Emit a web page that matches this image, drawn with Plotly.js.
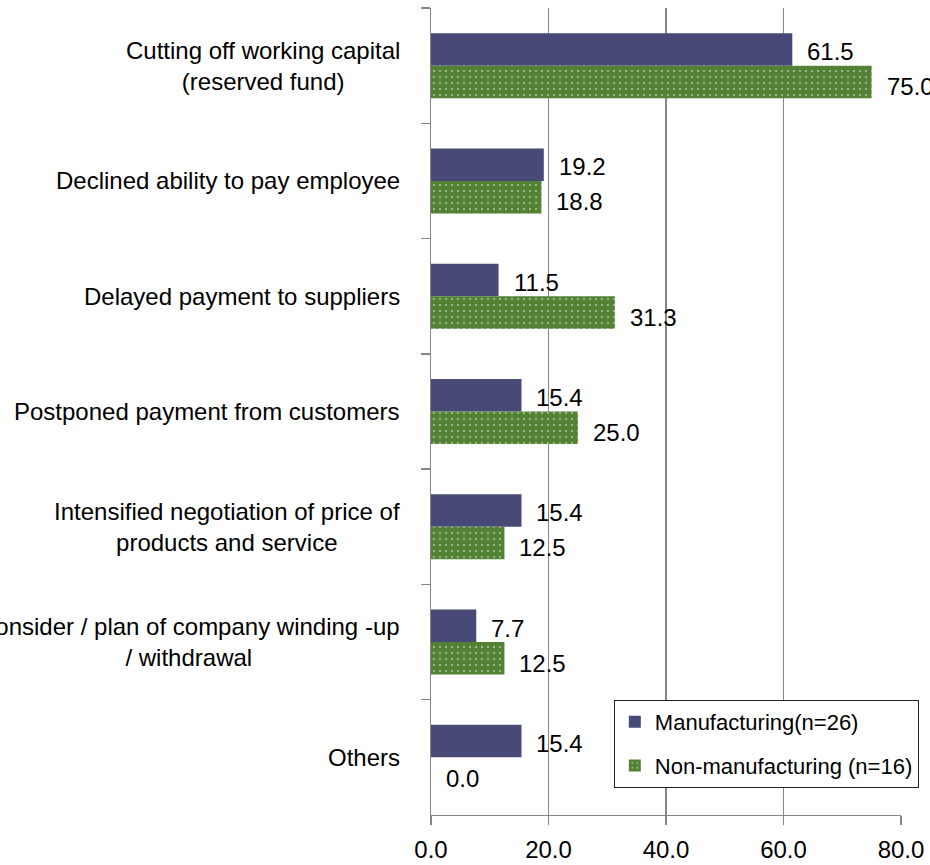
<!DOCTYPE html>
<html>
<head>
<meta charset="utf-8">
<script src="https://cdn.plot.ly/plotly-3.0.1.min.js"></script>
<style>
html,body{margin:0;padding:0;background:#fff;overflow:hidden;}
#chart{width:930px;height:865px;}
</style>
</head>
<body>
<div id="chart"></div>
<script>
const categories = [
  "Cutting off working capital<br>(reserved fund)",
  "Declined ability to pay employee",
  "Delayed payment to suppliers",
  "Postponed payment from customers",
  "Intensified negotiation of price of<br>products and service",
  "Consider / plan of company winding -up<br>/ withdrawal",
  "Others"
];
const manufacturing = [61.5, 19.2, 11.5, 15.4, 15.4, 7.7, 15.4];
const nonManufacturing = [75.0, 18.8, 31.3, 25.0, 12.5, 12.5, 0.0];
const seriesNames = ["Manufacturing(n=26)", "Non-manufacturing (n=16)"];
const xTicks = [0, 20, 40, 60, 80];

const FONT = '"Liberation Sans", Arial, sans-serif';
const BLUE = '#474A77';
const GREEN = '#548235';
const AXIS = '#868686';

const traces = [
  {
    type: 'bar', orientation: 'h', name: seriesNames[0],
    y: categories, x: manufacturing,
    marker: {color: BLUE, line: {width: 0}},
    legendgroup: 'a', hoverinfo: 'x'
  },
  {
    type: 'bar', orientation: 'h', name: seriesNames[1],
    y: categories, x: nonManufacturing,
    marker: {color: GREEN, line: {width: 0},
      pattern: {shape: '.', fgcolor: '#ffffff', bgcolor: GREEN, size: 6, solidity: 0.1, fillmode: 'overlay'}},
    legendgroup: 'b', hoverinfo: 'x'
  }
];

const annotations = [];
categories.forEach((c, i) => {
  annotations.push({
    xref: 'paper', yref: 'y', x: 0, y: c, xanchor: 'right', xshift: -29,
    text: c, showarrow: false, align: 'center',
    font: {family: FONT, size: 24, color: '#000'}
  });
  annotations.push({
    xref: 'x', yref: 'y', x: manufacturing[i], y: c, xanchor: 'left', yanchor: 'middle',
    xshift: 13, yshift: 14, text: manufacturing[i].toFixed(1), showarrow: false,
    font: {family: FONT, size: 24, color: '#000'}
  });
  annotations.push({
    xref: 'x', yref: 'y', x: nonManufacturing[i], y: c, xanchor: 'left', yanchor: 'middle',
    xshift: 13, yshift: -21, text: nonManufacturing[i].toFixed(1), showarrow: false,
    font: {family: FONT, size: 24, color: '#000'}
  });
});

const layout = {
  width: 930, height: 865,
  margin: {l: 431, r: 29, t: 8, b: 50, pad: 0},
  paper_bgcolor: '#fff', plot_bgcolor: '#fff',
  font: {family: FONT, size: 24, color: '#000'},
  barmode: 'group', bargap: 0.436, bargroupgap: 0,
  showlegend: true,
  legend: {
    x: 0.389, y: 0.1425, xanchor: 'left', yanchor: 'top',
    bgcolor: '#fff', bordercolor: '#222', borderwidth: 1,
    font: {family: FONT, size: 22, color: '#000'},
    traceorder: 'grouped', tracegroupgap: 12, itemwidth: 30
  },
  xaxis: {
    range: [0, 80], tickvals: xTicks, ticktext: xTicks.map(v => v.toFixed(1)),
    showgrid: true, gridcolor: AXIS, gridwidth: 1.3,
    zeroline: false, showline: true, linecolor: AXIS, linewidth: 1.3,
    ticks: 'outside', ticklen: 9, tickcolor: AXIS, tickwidth: 1.3,
    ticklabelstandoff: 4, automargin: false,
    tickfont: {family: FONT, size: 24, color: '#000'}, fixedrange: true
  },
  yaxis: {
    type: 'category', autorange: 'reversed', automargin: false,
    showticklabels: false, showgrid: false, zeroline: false,
    showline: true, linecolor: AXIS, linewidth: 1.3,
    ticks: 'outside', tickson: 'boundaries', ticklen: 9, tickcolor: AXIS, tickwidth: 1.3,
    fixedrange: true
  },
  annotations: annotations
};

Plotly.newPlot('chart', traces, layout, {displayModeBar: false, staticPlot: true});
</script>
</body>
</html>
